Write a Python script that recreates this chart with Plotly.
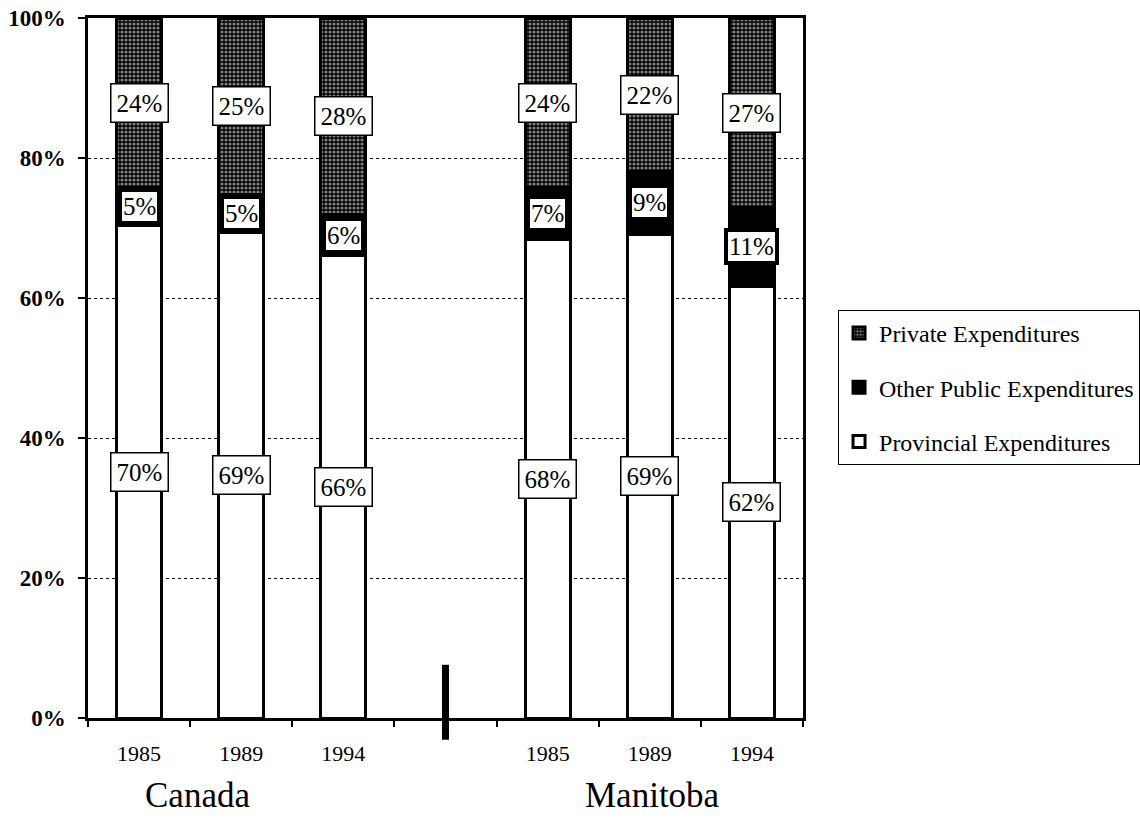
import plotly.graph_objects as go

years = ["1985", "1989", "1994"]
groups = ["Canada", "Manitoba"]
canada_provincial = [70.4, 69.4, 66.1]
canada_other = [5.4, 5.4, 5.8]
canada_private = [24.2, 25.2, 28.1]
manitoba_provincial = [68.4, 69.1, 61.7]
manitoba_other = [7.4, 9.0, 11.2]
manitoba_private = [24.2, 21.9, 27.1]
series_names = ["Provincial Expenditures", "Other Public Expenditures", "Private Expenditures"]
y_ticks = [0, 20, 40, 60, 80, 100]

GAP = " "
cats = [f"{groups[0]} {y}" for y in years] + [GAP] + [f"{groups[1]} {y}" for y in years]
ticktext = years + [""] + years

def join(a, b):
    return list(a) + [None] + list(b)

prov = join(canada_provincial, manitoba_provincial)
other = join(canada_other, manitoba_other)
priv = join(canada_private, manitoba_private)

FONT = "Liberation Serif"
LABEL_SIZE = 25
fig = go.Figure()
styles = [
    dict(color="white", pattern=None, rank=3),
    dict(color="black", pattern=None, rank=2),
    dict(color="black", pattern=dict(shape=".", fgcolor="white", bgcolor="black", size=4, solidity=0.5), rank=1),
]
for name, vals, st in zip(series_names, [prov, other, priv], styles):
    marker = dict(color=st["color"], line=dict(color="black", width=3))
    if st["pattern"]:
        marker["pattern"] = st["pattern"]
    fig.add_trace(go.Bar(x=cats, y=vals, name=name, marker=marker, legendgroup=name,
                         legendrank=st["rank"], hoverinfo="skip"))

# value labels
for i, c in enumerate(cats):
    if prov[i] is None:
        continue
    p, o, r = prov[i], other[i], priv[i]
    fig.add_annotation(x=c, y=p / 2, text=f"{round(p)}%", showarrow=False,
                       font=dict(family=FONT, size=LABEL_SIZE, color="black"),
                       bgcolor="white", bordercolor="black", borderwidth=1.5, borderpad=5)
    fig.add_annotation(x=c, y=p + o / 2, text=f"{round(o)}%", showarrow=False,
                       font=dict(family=FONT, size=LABEL_SIZE, color="black"),
                       bgcolor="white", bordercolor="black", borderwidth=4, borderpad=1)
    fig.add_annotation(x=c, y=p + o + r / 2, text=f"{round(r)}%", showarrow=False,
                       font=dict(family=FONT, size=LABEL_SIZE, color="black"),
                       bgcolor="white", bordercolor="black", borderwidth=1.5, borderpad=5)

# group labels
fig.add_annotation(x=0.57, y=-0.11, xref="x", yref="paper", yanchor="middle", text=groups[0],
                   showarrow=False, font=dict(family=FONT, size=35, color="black"))
fig.add_annotation(x=5.03, y=-0.11, xref="x", yref="paper", yanchor="middle", text=groups[1],
                   showarrow=False, font=dict(family=FONT, size=35, color="black"))

# break mark in the gap category (centre of the 4th of 7 slots)
fig.add_shape(type="line", xref="paper", yref="paper", x0=0.5, x1=0.5, y0=-0.031, y1=0.076,
              line=dict(color="black", width=7))

fig.update_layout(
    width=1140, height=833,
    margin=dict(l=88, r=337, t=18, b=115, autoexpand=False),
    paper_bgcolor="white", plot_bgcolor="white",
    barmode="stack", bargap=0.56,
    font=dict(family=FONT, color="black"),
    legend=dict(x=1.049, y=0.583, xanchor="left", yanchor="top",
                traceorder="grouped", tracegroupgap=20,
                bgcolor="white", bordercolor="black", borderwidth=1,
                font=dict(family=FONT, size=24, color="black")),
    xaxis=dict(type="category", categoryorder="array", categoryarray=cats,
               tickvals=cats, ticktext=ticktext, tickson="boundaries",
               range=[-0.5, 6.5], ticks="outside", ticklen=6, tickwidth=1.5, tickcolor="black",
               showline=True, linecolor="black", linewidth=2.5, mirror=True,
               showgrid=False, ticklabelstandoff=14,
               tickfont=dict(family=FONT, size=22, color="black")),
    yaxis=dict(range=[0, 100], tickvals=y_ticks, ticktext=[f"{v}%" for v in y_ticks],
               ticks="outside", ticklen=7, tickwidth=1.5, tickcolor="black",
               showline=True, linecolor="black", linewidth=2.5, mirror=True,
               showgrid=True, gridcolor="black", gridwidth=1, griddash="dot",
               zeroline=False, ticklabelstandoff=8,
               tickfont=dict(family=FONT, size=23, color="black", weight="bold")),
)
fig.write_html("out.html")
